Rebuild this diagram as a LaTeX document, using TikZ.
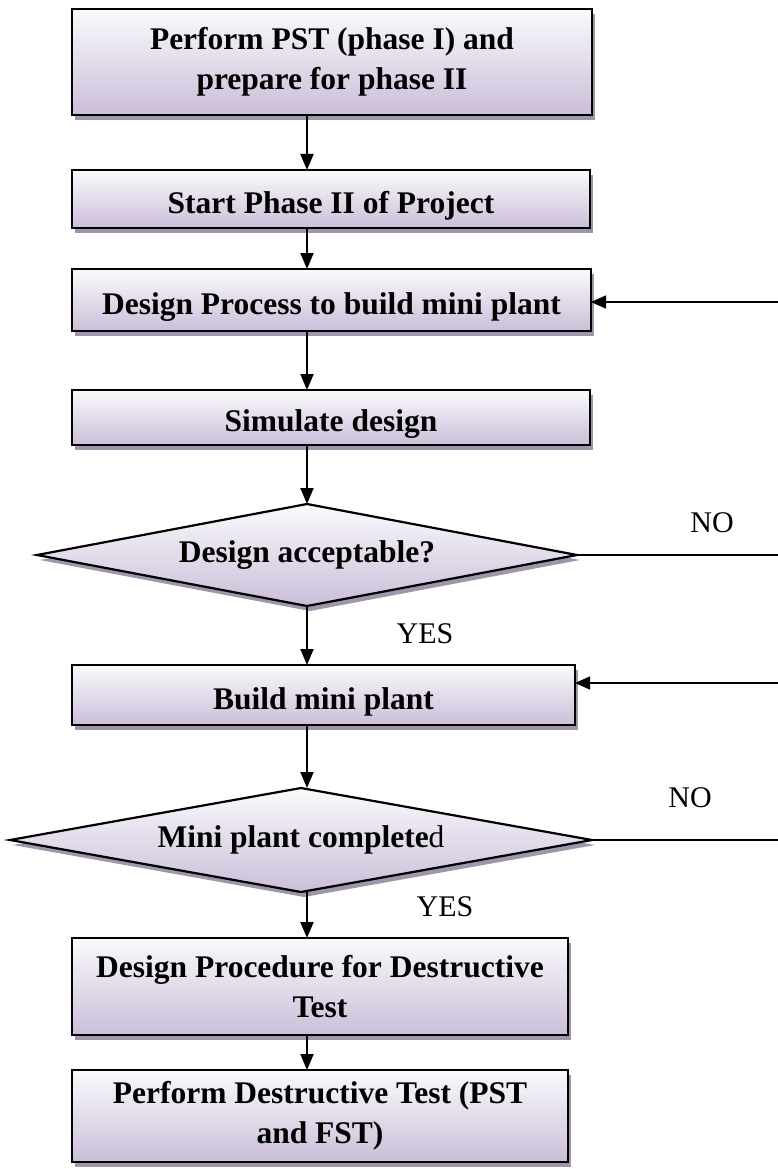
\documentclass[tikz,border=0pt]{standalone}
\usepackage{fontspec}
\setmainfont{Liberation Serif}
\usetikzlibrary{shapes.geometric,shadows,arrows.meta}
\definecolor{gtop}{RGB}{250,250,252}
\definecolor{gbot}{RGB}{203,190,217}
\definecolor{shad}{RGB}{158,150,170}
\begin{document}
\begin{tikzpicture}[x=1pt,y=-1pt,
  procbox/.style={rectangle, draw=black, line width=2.2pt, top color=gtop, bottom color=gbot,
    drop shadow={shadow xshift=3pt, shadow yshift=-5pt, fill=shad, opacity=1},
    inner sep=0pt, outer sep=0pt, align=center, font=\fontsize{31.5}{40}\selectfont\bfseries},
  onebox/.style={procbox, text height=28pt, text depth=0pt},
  decbox/.style={diamond, draw=black, line width=2.2pt, top color=gtop, bottom color=gbot,
    drop shadow={shadow xshift=3pt, shadow yshift=-5pt, fill=shad, opacity=1},
    inner sep=0pt, outer sep=0pt, align=center, font=\fontsize{31.5}{40}\selectfont\bfseries},
  arr/.style={line width=1.9pt, -{Triangle[length=16pt,width=13pt]}},
  fb/.style={line width=1.5pt},
  fbarr/.style={line width=1.5pt, -{Triangle[length=15pt,width=13pt]}},
  lbl/.style={font=\fontsize{30}{36}\selectfont, inner sep=0pt}]
\useasboundingbox (0,0) rectangle (778,1169);
\coordinate (sp) at (307,0);
\node[procbox, minimum width=520pt, minimum height=106pt] (b1) at (332,62) {Perform PST (phase I) and\\prepare for phase II};
\node[onebox, minimum width=518pt, minimum height=58pt] (b2) at (331,199) {Start Phase II of Project};
\node[onebox, minimum width=519pt, minimum height=62pt] (b3) at (331.5,300) {Design Process to build mini plant};
\node[onebox, minimum width=518pt, minimum height=55pt] (b4) at (331,417.5) {Simulate design};
\node[decbox, aspect=5.3, minimum width=540pt, minimum height=102pt] (d1) at (307,555) {Design acceptable?};
\node[onebox, minimum width=503pt, minimum height=60pt] (b5) at (323.5,695) {Build mini plant};
\node[decbox, aspect=5.6, minimum width=582pt, minimum height=104pt] (d2) at (301,840) {Mini plant complete\mdseries d};
\node[procbox, minimum width=496pt, minimum height=97pt] (b6) at (320,986.5) {Design Procedure for Destructive\\Test};
\node[procbox, minimum width=496pt, minimum height=92pt] (b7) at (320,1116) {Perform Destructive Test (PST\\and FST)};
\draw[arr] (b1.south -| sp) -- (b2.north -| sp);
\draw[arr] (b2.south -| sp) -- (b3.north -| sp);
\draw[arr] (b3.south -| sp) -- (b4.north -| sp);
\draw[arr] (b4.south -| sp) -- (d1.north);
\draw[arr] (d1.south) -- (b5.north -| sp);
\draw[arr] (b5.south -| sp) -- (d2.north -| sp);
\draw[arr] (d2.south -| sp) -- (b6.north -| sp);
\draw[arr] (b6.south -| sp) -- (b7.north -| sp);
\coordinate (e1) at (778,555);
\coordinate (e1t) at (778,302);
\coordinate (e2) at (778,840);
\coordinate (e2t) at (778,683);
\draw[fb] (d1.east) -- (e1);
\draw[fbarr] (e1t) -- (b3.east |- e1t);
\draw[fb] (d2.east) -- (e2);
\draw[fbarr] (e2t) -- (b5.east |- e2t);
\node[lbl] (no1) at (712,523) {NO};
\node[lbl] (yes1) at (425,634) {YES};
\node[lbl] (no2) at (690,798) {NO};
\node[lbl] (yes2) at (445,907) {YES};
\end{tikzpicture}
\end{document}
